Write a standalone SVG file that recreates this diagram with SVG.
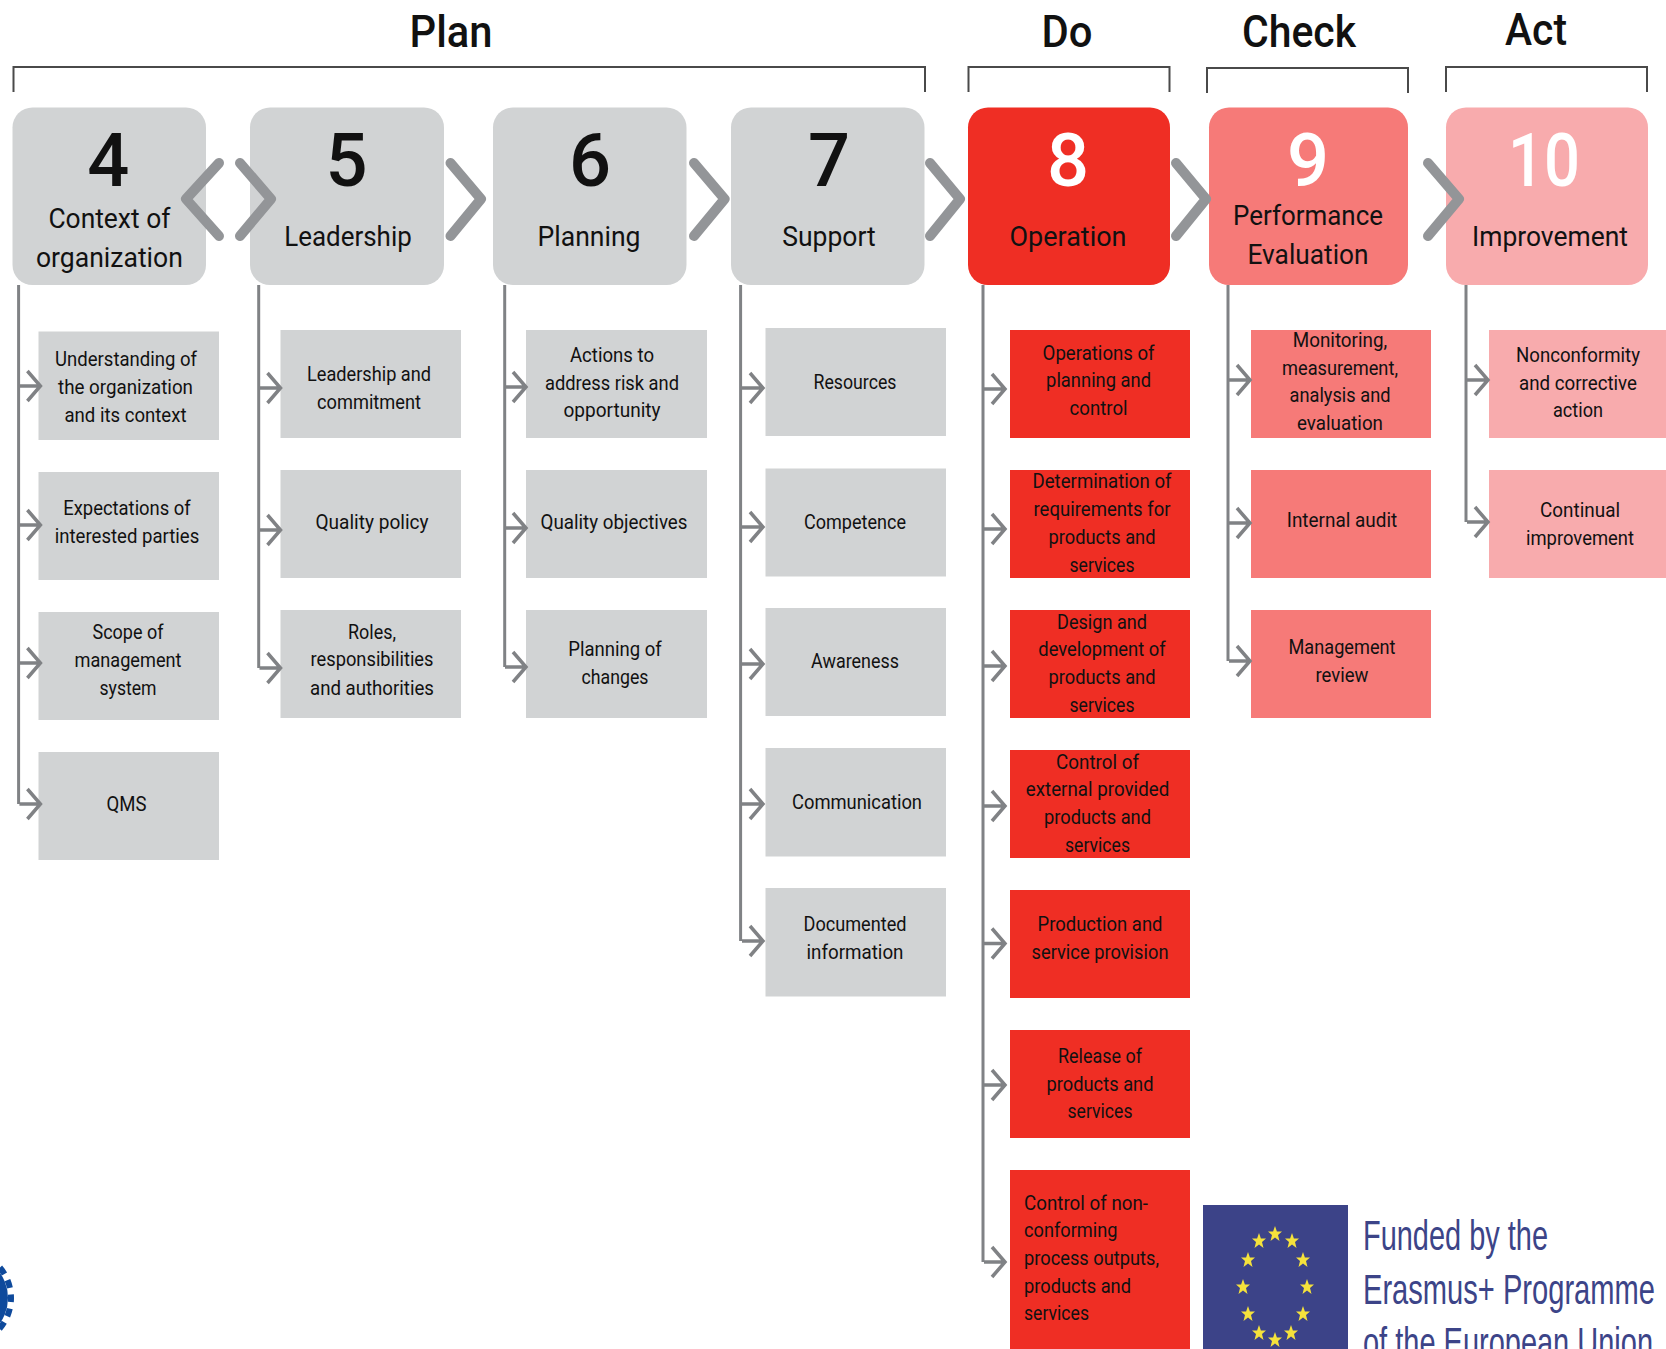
<svg xmlns="http://www.w3.org/2000/svg" xmlns:xlink="http://www.w3.org/1999/xlink" width="1666" height="1349" viewBox="0 0 1666 1349">
<style>
text{font-family:"Roboto","Liberation Sans",sans-serif;fill:#111;text-anchor:middle}
.s{font-size:20px}
.l{font-size:28px}
.t{font-size:44px;font-weight:500}
.n{font-size:74px;font-weight:500}
.w{fill:#fff}
.left{text-anchor:start}
.g{fill:#d1d3d4}.r{fill:#ef2e24}.p{fill:#f67a78}.q{fill:#f8abad}
.br{fill:none;stroke:#4a4a4a;stroke-width:2}
.tr{fill:none;stroke:#808285;stroke-width:3}
.ch{fill:none;stroke:#939598;stroke-width:10;stroke-linecap:round;stroke-linejoin:round}
.eu{font-family:"Liberation Sans",Arial,sans-serif;fill:#3c4488;text-anchor:start;font-size:43px}
</style>
<defs>
<path id="ah" d="M-13,-15 L0,0 L-13,15 M-21,0 L0,0" fill="none" stroke="#808285" stroke-width="3.5"/>
<polygon id="st" points="0,-8 1.900,-2.400 7,-2.400 3,0.900 4.500,7 0,3.500 -4.500,7 -3,0.900 -7,-2.400 -1.900,-2.400" fill="#f5e23c"/>
</defs>
<rect width="1666" height="1349" fill="#fff"/>

<g id="brackets">
<path class="br" d="M13.500,92V67H925V92"/>
<path class="br" d="M968.500,92V67H1169.500V92"/>
<path class="br" d="M1207,93V68H1408V93"/>
<path class="br" d="M1446,92V67H1647V92"/>
<text class="t" x="451" y="47" textLength="83" lengthAdjust="spacingAndGlyphs">Plan</text>
<text class="t" x="1067" y="47" textLength="51" lengthAdjust="spacingAndGlyphs">Do</text>
<text class="t" x="1299" y="47" textLength="114" lengthAdjust="spacingAndGlyphs">Check</text>
<text class="t" x="1536" y="45" textLength="62" lengthAdjust="spacingAndGlyphs">Act</text>
</g>

<g id="node-4"><rect class="g" x="12.500" y="107.500" width="193.500" height="177.500" rx="20"/><text class="n" x="108.400" y="185.500">4</text><text class="l" x="109.400" y="228" textLength="122" lengthAdjust="spacingAndGlyphs">Context of</text><text class="l" x="109.400" y="267" textLength="147" lengthAdjust="spacingAndGlyphs">organization</text></g>
<g id="node-5"><rect class="g" x="250" y="107.500" width="194" height="177.500" rx="20"/><text class="n" x="346.500" y="185.500">5</text><text class="l" x="348" y="246" textLength="127.500" lengthAdjust="spacingAndGlyphs">Leadership</text></g>
<g id="node-6"><rect class="g" x="493" y="107.500" width="193.500" height="177.500" rx="20"/><text class="n" x="590" y="185.500">6</text><text class="l" x="589" y="246" textLength="103" lengthAdjust="spacingAndGlyphs">Planning</text></g>
<g id="node-7"><rect class="g" x="731" y="107.500" width="193.500" height="177.500" rx="20"/><text class="n" x="829" y="185.500">7</text><text class="l" x="829" y="246" textLength="93.500" lengthAdjust="spacingAndGlyphs">Support</text></g>
<g id="node-8"><rect class="r" x="968" y="107.500" width="202" height="177.500" rx="20"/><text class="n w" x="1068" y="185.500">8</text><text class="l" x="1068" y="246" textLength="117" lengthAdjust="spacingAndGlyphs">Operation</text></g>
<g id="node-9"><rect class="p" x="1209" y="107.500" width="199" height="177.500" rx="20"/><text class="n w" x="1308" y="185.500">9</text><text class="l" x="1308" y="225" textLength="150" lengthAdjust="spacingAndGlyphs">Performance</text><text class="l" x="1308" y="264" textLength="121" lengthAdjust="spacingAndGlyphs">Evaluation</text></g>
<g id="node-10"><rect class="q" x="1446" y="107.500" width="202" height="177.500" rx="20"/><text class="n w" x="1544" y="185.500" textLength="72" lengthAdjust="spacingAndGlyphs">10</text><text class="l" x="1550" y="246" textLength="156" lengthAdjust="spacingAndGlyphs">Improvement</text></g>

<g id="chevrons">
<path class="ch" d="M219,163L186,199L219,236"/>
<path class="ch" d="M240,163L271,199L240,236"/>
<path class="ch" d="M450.500,163L481,199L450.500,236"/>
<path class="ch" d="M694,163L724.600,199L694,236"/>
<path class="ch" d="M930,163L960,199L930,236"/>
<path class="ch" d="M1176,163L1206,199L1176,236"/>
<path class="ch" d="M1428,163L1459,199L1428,236"/>
</g>

<g id="c4-1"><rect class="g" x="38.500" y="331.500" width="180.500" height="108.500"/><text class="s" x="126" y="366" textLength="142" lengthAdjust="spacingAndGlyphs">Understanding of</text><text class="s" x="125.500" y="394" textLength="135" lengthAdjust="spacingAndGlyphs">the organization</text><text class="s" x="125.500" y="421.500" textLength="122" lengthAdjust="spacingAndGlyphs">and its context</text></g>
<g id="c4-2"><rect class="g" x="38.500" y="472" width="180.500" height="108"/><text class="s" x="127" y="515" textLength="127.500" lengthAdjust="spacingAndGlyphs">Expectations of</text><text class="s" x="127" y="542.500" textLength="144.500" lengthAdjust="spacingAndGlyphs">interested parties</text></g>
<g id="c4-3"><rect class="g" x="38.500" y="612" width="180.500" height="108"/><text class="s" x="128" y="639" textLength="71" lengthAdjust="spacingAndGlyphs">Scope of</text><text class="s" x="128" y="667" textLength="107" lengthAdjust="spacingAndGlyphs">management</text><text class="s" x="128" y="694.500" textLength="57" lengthAdjust="spacingAndGlyphs">system</text></g>
<g id="c4-4"><rect class="g" x="38.500" y="752" width="180.500" height="108"/><text class="s" x="126.500" y="811" textLength="40" lengthAdjust="spacingAndGlyphs">QMS</text></g>

<g id="c5-1"><rect class="g" x="280.500" y="330" width="180.500" height="108"/><text class="s" x="369" y="381" textLength="124" lengthAdjust="spacingAndGlyphs">Leadership and</text><text class="s" x="369" y="408.500" textLength="104" lengthAdjust="spacingAndGlyphs">commitment</text></g>
<g id="c5-2"><rect class="g" x="280.500" y="470" width="180.500" height="108"/><text class="s" x="372" y="528.700" textLength="113" lengthAdjust="spacingAndGlyphs">Quality policy</text></g>
<g id="c5-3"><rect class="g" x="280.500" y="610" width="180.500" height="108"/><text class="s" x="372" y="639" textLength="48" lengthAdjust="spacingAndGlyphs">Roles,</text><text class="s" x="372" y="666" textLength="123" lengthAdjust="spacingAndGlyphs">responsibilities</text><text class="s" x="372" y="694.500" textLength="124" lengthAdjust="spacingAndGlyphs">and authorities</text></g>

<g id="c6-1"><rect class="g" x="526" y="330" width="181" height="108"/><text class="s" x="612" y="362" textLength="84" lengthAdjust="spacingAndGlyphs">Actions to</text><text class="s" x="612" y="389.500" textLength="134" lengthAdjust="spacingAndGlyphs">address risk and</text><text class="s" x="612" y="417" textLength="97" lengthAdjust="spacingAndGlyphs">opportunity</text></g>
<g id="c6-2"><rect class="g" x="526" y="470" width="181" height="108"/><text class="s" x="614" y="528.700" textLength="147" lengthAdjust="spacingAndGlyphs">Quality objectives</text></g>
<g id="c6-3"><rect class="g" x="526" y="610" width="181" height="108"/><text class="s" x="615" y="656" textLength="93.500" lengthAdjust="spacingAndGlyphs">Planning of</text><text class="s" x="615" y="684" textLength="67" lengthAdjust="spacingAndGlyphs">changes</text></g>

<g id="c7-1"><rect class="g" x="765.500" y="328" width="180.500" height="108"/><text class="s" x="855" y="388.500" textLength="83" lengthAdjust="spacingAndGlyphs">Resources</text></g>
<g id="c7-2"><rect class="g" x="765.500" y="468.500" width="180.500" height="108"/><text class="s" x="855" y="528.700" textLength="102" lengthAdjust="spacingAndGlyphs">Competence</text></g>
<g id="c7-3"><rect class="g" x="765.500" y="608" width="180.500" height="108"/><text class="s" x="855" y="668" textLength="88" lengthAdjust="spacingAndGlyphs">Awareness</text></g>
<g id="c7-4"><rect class="g" x="765.500" y="748" width="180.500" height="108.500"/><text class="s" x="857" y="809" textLength="130" lengthAdjust="spacingAndGlyphs">Communication</text></g>
<g id="c7-5"><rect class="g" x="765.500" y="888" width="180.500" height="108.500"/><text class="s" x="855" y="931" textLength="103" lengthAdjust="spacingAndGlyphs">Documented</text><text class="s" x="855" y="959" textLength="97" lengthAdjust="spacingAndGlyphs">information</text></g>

<g id="c8-1"><rect class="r" x="1010" y="330" width="180" height="108"/><text class="s" x="1098.600" y="360" textLength="112" lengthAdjust="spacingAndGlyphs">Operations of</text><text class="s" x="1098.600" y="387.400" textLength="105" lengthAdjust="spacingAndGlyphs">planning and</text><text class="s" x="1098.600" y="415" textLength="58" lengthAdjust="spacingAndGlyphs">control</text></g>
<g id="c8-2"><rect class="r" x="1010" y="470" width="180" height="108"/><text class="s" x="1102" y="488" textLength="139" lengthAdjust="spacingAndGlyphs">Determination of</text><text class="s" x="1102" y="516" textLength="137" lengthAdjust="spacingAndGlyphs">requirements for</text><text class="s" x="1102" y="543.600" textLength="107" lengthAdjust="spacingAndGlyphs">products and</text><text class="s" x="1102" y="572" textLength="65" lengthAdjust="spacingAndGlyphs">services</text></g>
<g id="c8-3"><rect class="r" x="1010" y="610" width="180" height="108"/><text class="s" x="1102" y="628.500" textLength="90" lengthAdjust="spacingAndGlyphs">Design and</text><text class="s" x="1102" y="656" textLength="127.500" lengthAdjust="spacingAndGlyphs">development of</text><text class="s" x="1102" y="684" textLength="107" lengthAdjust="spacingAndGlyphs">products and</text><text class="s" x="1102" y="712" textLength="65" lengthAdjust="spacingAndGlyphs">services</text></g>
<g id="c8-4"><rect class="r" x="1010" y="750" width="180" height="108"/><text class="s" x="1097.500" y="769" textLength="83" lengthAdjust="spacingAndGlyphs">Control of</text><text class="s" x="1097.500" y="796.400" textLength="143.500" lengthAdjust="spacingAndGlyphs">external provided</text><text class="s" x="1097.500" y="824" textLength="107" lengthAdjust="spacingAndGlyphs">products and</text><text class="s" x="1097.500" y="852" textLength="65" lengthAdjust="spacingAndGlyphs">services</text></g>
<g id="c8-5"><rect class="r" x="1010" y="890" width="180" height="108"/><text class="s" x="1100" y="931" textLength="125" lengthAdjust="spacingAndGlyphs">Production and</text><text class="s" x="1100" y="959" textLength="137" lengthAdjust="spacingAndGlyphs">service provision</text></g>
<g id="c8-6"><rect class="r" x="1010" y="1030" width="180" height="108"/><text class="s" x="1100" y="1063" textLength="84" lengthAdjust="spacingAndGlyphs">Release of</text><text class="s" x="1100" y="1091" textLength="107" lengthAdjust="spacingAndGlyphs">products and</text><text class="s" x="1100" y="1118" textLength="65" lengthAdjust="spacingAndGlyphs">services</text></g>
<g id="c8-7"><rect class="r" x="1010" y="1170" width="180" height="179"/><text class="s left" x="1024" y="1210" textLength="124" lengthAdjust="spacingAndGlyphs">Control of non-</text><text class="s left" x="1024" y="1237" textLength="93.500" lengthAdjust="spacingAndGlyphs">conforming</text><text class="s left" x="1024" y="1265" textLength="135" lengthAdjust="spacingAndGlyphs">process outputs,</text><text class="s left" x="1024" y="1293" textLength="107" lengthAdjust="spacingAndGlyphs">products and</text><text class="s left" x="1024" y="1320" textLength="65" lengthAdjust="spacingAndGlyphs">services</text></g>

<g id="c9-1"><rect class="p" x="1251" y="330" width="180" height="108"/><text class="s" x="1340" y="347" textLength="94.500" lengthAdjust="spacingAndGlyphs">Monitoring,</text><text class="s" x="1340" y="374.600" textLength="116" lengthAdjust="spacingAndGlyphs">measurement,</text><text class="s" x="1340" y="402" textLength="101" lengthAdjust="spacingAndGlyphs">analysis and</text><text class="s" x="1340" y="430" textLength="86" lengthAdjust="spacingAndGlyphs">evaluation</text></g>
<g id="c9-2"><rect class="p" x="1251" y="470" width="180" height="108"/><text class="s" x="1342" y="526.600" textLength="110.500" lengthAdjust="spacingAndGlyphs">Internal audit</text></g>
<g id="c9-3"><rect class="p" x="1251" y="610" width="180" height="108"/><text class="s" x="1342" y="654" textLength="107" lengthAdjust="spacingAndGlyphs">Management</text><text class="s" x="1342" y="682" textLength="53" lengthAdjust="spacingAndGlyphs">review</text></g>

<g id="c10-1"><rect class="q" x="1489" y="330" width="177" height="108"/><text class="s" x="1578" y="362" textLength="124" lengthAdjust="spacingAndGlyphs">Nonconformity</text><text class="s" x="1578" y="389.500" textLength="118" lengthAdjust="spacingAndGlyphs">and corrective</text><text class="s" x="1578" y="417" textLength="50" lengthAdjust="spacingAndGlyphs">action</text></g>
<g id="c10-2"><rect class="q" x="1489" y="470" width="177" height="108"/><text class="s" x="1580" y="517" textLength="80" lengthAdjust="spacingAndGlyphs">Continual</text><text class="s" x="1580" y="544.600" textLength="108" lengthAdjust="spacingAndGlyphs">improvement</text></g>

<g id="connectors">
<path class="tr" d="M18.600,285V804"/><use href="#ah" x="40.400" y="386"/><use href="#ah" x="40.400" y="525"/><use href="#ah" x="40.400" y="663"/><use href="#ah" x="40.400" y="804"/>
<path class="tr" d="M258.700,285V668"/><use href="#ah" x="280.500" y="388"/><use href="#ah" x="280.500" y="530"/><use href="#ah" x="280.500" y="668"/>
<path class="tr" d="M504.700,285V667"/><use href="#ah" x="526" y="387"/><use href="#ah" x="526" y="528"/><use href="#ah" x="526" y="667"/>
<path class="tr" d="M740.600,285V941"/><use href="#ah" x="763" y="388"/><use href="#ah" x="763" y="527"/><use href="#ah" x="763" y="664"/><use href="#ah" x="763" y="804"/><use href="#ah" x="763" y="941"/>
<path class="tr" d="M983,285V1262"/><use href="#ah" x="1005" y="389"/><use href="#ah" x="1005" y="529"/><use href="#ah" x="1005" y="666"/><use href="#ah" x="1005" y="806"/><use href="#ah" x="1005" y="943.500"/><use href="#ah" x="1005" y="1085"/><use href="#ah" x="1005" y="1262"/>
<path class="tr" d="M1228,285V661"/><use href="#ah" x="1250" y="380"/><use href="#ah" x="1250" y="523"/><use href="#ah" x="1250" y="661"/>
<path class="tr" d="M1466,285V522"/><use href="#ah" x="1488" y="380"/><use href="#ah" x="1488" y="522"/>
</g>

<g id="eu-logo">
<rect x="1203" y="1205" width="145" height="144" fill="#3c4388"/>
<use href="#st" x="1275" y="1234"/><use href="#st" x="1292" y="1241"/><use href="#st" x="1303" y="1260"/><use href="#st" x="1307" y="1287"/><use href="#st" x="1303" y="1314"/><use href="#st" x="1291" y="1333"/><use href="#st" x="1275" y="1340"/><use href="#st" x="1259" y="1333"/><use href="#st" x="1248" y="1314"/><use href="#st" x="1243" y="1287"/><use href="#st" x="1248" y="1260"/><use href="#st" x="1259" y="1241"/>
<text class="eu" x="1363" y="1250" textLength="185" lengthAdjust="spacingAndGlyphs">Funded by the</text>
<text class="eu" x="1363" y="1304" textLength="292" lengthAdjust="spacingAndGlyphs">Erasmus+ Programme</text>
<text class="eu" x="1363" y="1357" textLength="290" lengthAdjust="spacingAndGlyphs">of the European Union</text>
</g>

<g id="gear">
<circle cx="-36" cy="1298" r="44" fill="#0f4a9c"/>
<circle cx="-36" cy="1298" r="47" fill="none" stroke="#0f4a9c" stroke-width="6" stroke-dasharray="8 6.765" stroke-dashoffset="4"/>
</g>
</svg>
